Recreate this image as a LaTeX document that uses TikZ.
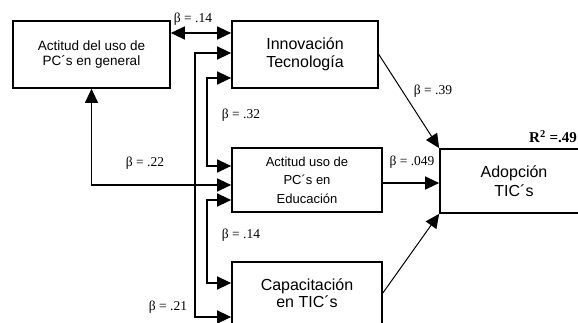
\documentclass[tikz,border=0pt]{standalone}
\usepackage{fontspec}
\setmainfont{Liberation Serif}
\newfontfamily\arialf{Liberation Sans}
\usetikzlibrary{arrows.meta}
\begin{document}
\begin{tikzpicture}[x=1pt,y=-1pt,
  box/.style={draw,line width=1.7pt,inner sep=0pt,align=center,font=\arialf\fontsize{16}{17.5}\selectfont},
  conn/.style={line width=1.3pt},
  diag/.style={line width=1pt},
  tip/.style={-{Triangle[length=14pt,width=13pt]}},
  btip/.style={{Triangle[length=14pt,width=13pt]}-{Triangle[length=14pt,width=13pt]}},
  lab/.style={font=\fontsize{13.5}{15}\selectfont, inner sep=0pt}]
\useasboundingbox (0,0) rectangle (578,323);
\clip (0,0) rectangle (578,323);

\node[box, minimum width=157pt, minimum height=67pt, font=\arialf\fontsize{13.5}{14.5}\selectfont] (A) at (91.5,54.5) {Actitud del uso de\\PC´s en general};
\node[box, minimum width=146pt, minimum height=67pt] (B) at (305,54.5) {Innovación\\Tecnología};
\node[box, minimum width=150pt, minimum height=64pt, font=\arialf\fontsize{13}{18.5}\selectfont] (C) at (307,180) {Actitud uso de\\PC´s en\\Educación};
\node[box, minimum width=150pt, minimum height=62pt] (D) at (307,293) {Capacitación\\en TIC´s};
\node[box, minimum width=148pt, minimum height=64pt, font=\arialf\fontsize{16}{19}\selectfont] (E) at (514,181) {Adopción\\TIC´s};

\node[font=\bfseries\fontsize{15}{17}\selectfont, anchor=base east, inner sep=0pt] (R) at (577,143) {R\textsuperscript{2} =.49};

% correlations
\draw[conn,btip] (A.east |- 0,33) -- (B.west |- 0,33);
\node[lab] (l1) at (193,19) {β = .14};

\draw[conn,btip] (B.west |- 0,53) -- (195,53) -- (195,317) -- (D.west |- 0,317);
\node[lab] (l2) at (168,307) {β = .21};

\draw[conn,btip] (B.west |- 0,78) -- (207,78) -- (207,166) -- (C.west |- 0,166);
\node[lab] (l3) at (241,115) {β = .32};

\draw[conn,btip] (A.south) -- (A.south |- 0,185) -- (C.west |- 0,185);
\node[lab] (l4) at (145,163) {β = .22};

\draw[conn,btip] (C.west |- 0,200) -- (207,200) -- (207,283) -- (D.west |- 0,283);
\node[lab] (l5) at (241,235) {β = .14};

% paths to adoption
\draw[diag,tip] (B.east) -- (E.north west);
\node[lab] (l6) at (433,91) {β = .39};

\draw[conn,tip] (C.east |- 0,183) -- (E.west |- 0,183);
\node[lab] (l7) at (412,162) {β = .049};

\draw[diag,tip] (D.east) -- (E.south west);
\end{tikzpicture}
\end{document}
